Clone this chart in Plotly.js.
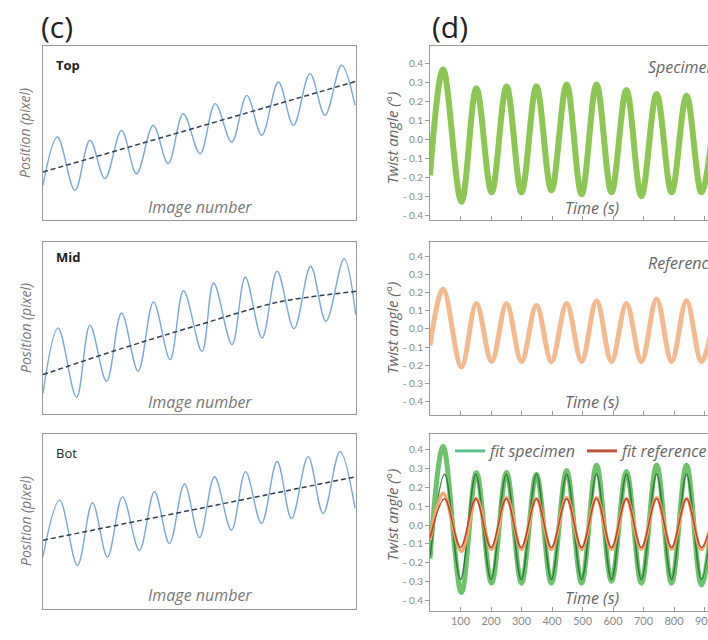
<!DOCTYPE html>
<html>
<head>
<meta charset="utf-8">
<script src="https://cdn.plot.ly/plotly-3.0.1.min.js"></script>
<style>
html,body{margin:0;padding:0;overflow:hidden;background:#fff;}
#chart{width:760px;height:640px;}
</style>
</head>
<body>
<div id="chart"></div>
<script>
// ---------- Panel (c): position vs image number (arbitrary units) ----------
const topImg   = [0, 4.6, 10.2, 15.0, 19.8, 25.1, 29.9, 35.2, 40.0, 44.8, 50.2, 55.0, 60.3, 65.1, 69.9, 75.2, 80.0, 85.3, 90.1, 95.4, 99.7];
const topPos   = [20, 47.7, 17.0, 45.8, 23.8, 51.5, 26.6, 54.4, 32.4, 61.1, 38.1, 66.9, 44.8, 71.6, 48.7, 79.3, 54.4, 84.1, 60.2, 88.9, 65.9];
const topFitX  = [0, 100];
const topFitY  = [27.6, 79.7];

const midImg   = [0, 4.8, 10.7, 15.0, 20.3, 25.1, 30.4, 35.3, 40.6, 44.9, 50.8, 54.5, 60.4, 64.6, 70.0, 74.8, 80.2, 85.5, 90.4, 96.2, 99.9];
const midPos   = [12, 50.0, 9.7, 51.6, 19.0, 58.7, 24.8, 65.1, 31.6, 71.7, 36.4, 76.2, 40.3, 79.5, 44.2, 83.0, 49.6, 85.9, 53.9, 90.3, 57.7];
const midFitX  = [0, 25, 50, 75, 100];
const midFitY  = [22.9, 38.0, 51.9, 65.0, 71.3];

const botImg   = [0, 5.3, 11.0, 15.8, 20.6, 25.4, 30.8, 35.6, 40.4, 45.2, 50.0, 54.8, 60.2, 64.7, 69.8, 74.8, 79.4, 84.7, 89.5, 94.9, 99.7];
const botPos   = [30, 62.2, 24.9, 60.7, 29.7, 64.1, 33.5, 67.0, 37.4, 71.4, 40.8, 75.6, 45.0, 78.5, 48.9, 84.3, 51.7, 87.1, 54.6, 90.0, 57.5];
const botFitX  = [0, 100];
const botFitY  = [39.3, 75.6];

// ---------- Panel (d): twist angle vs time ----------
const timeS     = [0, 43, 103, 152, 202, 251, 300, 349, 398, 448, 497, 546, 595, 644, 693, 743, 792, 841, 890, 940];
const specimen  = [-0.19, 0.37, -0.33, 0.27, -0.28, 0.28, -0.28, 0.28, -0.27, 0.29, -0.29, 0.29, -0.28, 0.26, -0.30, 0.24, -0.28, 0.23, -0.28, 0.25];
const reference = [-0.09, 0.22, -0.21, 0.14, -0.18, 0.14, -0.18, 0.13, -0.18, 0.14, -0.18, 0.155, -0.18, 0.14, -0.18, 0.165, -0.18, 0.155, -0.18, 0.15];
const specimen2 = [-0.18, 0.42, -0.36, 0.28, -0.31, 0.28, -0.31, 0.27, -0.31, 0.29, -0.31, 0.32, -0.30, 0.285, -0.31, 0.32, -0.31, 0.32, -0.32, 0.30];
const reference2= [-0.08, 0.17, -0.14, 0.14, -0.13, 0.145, -0.13, 0.14, -0.13, 0.145, -0.13, 0.145, -0.13, 0.14, -0.13, 0.145, -0.13, 0.14, -0.13, 0.14];
const fitTime   = [0, 48, 100, 150, 200, 250, 299, 349, 398, 448, 497, 546, 595, 644, 693, 743, 792, 841, 890, 940];
const fitSpec   = [-0.17, 0.27, -0.29, 0.27, -0.29, 0.27, -0.29, 0.27, -0.29, 0.27, -0.29, 0.27, -0.29, 0.27, -0.29, 0.27, -0.29, 0.27, -0.29, 0.27];
const fitRef    = [-0.07, 0.14, -0.12, 0.14, -0.12, 0.14, -0.12, 0.14, -0.12, 0.14, -0.12, 0.14, -0.12, 0.14, -0.12, 0.14, -0.12, 0.14, -0.12, 0.14];

const angleTicks  = [-0.4, -0.3, -0.2, -0.1, 0, 0.1, 0.2, 0.3, 0.4];
const angleLabels = ['- 0.4', '- 0.3', '- 0.2', '- 0.1', '0.0', '0.1', '0.2', '0.3', '0.4'];
const timeTicks   = [100, 200, 300, 400, 500, 600, 700, 800, 900, 1000];
const timeLabels  = ['100', '200', '300', '400', '500', '600', '700', '800', '900', '1000'];

const panelNames = ['Top', 'Mid', 'Bot'];

// ---------- layout helpers ----------
const W = 760, H = 640;
const px = v => v / W;
const py = v => 1 - v / H;
const FONT = '"Open Sans", Lato, sans-serif';
const TICKFONT = 'Lato, "Open Sans", sans-serif';
const BLUE = '#78a9d8', TREND = '#2f3e52';

const traces = [];
function sig(x, y, xa, ya) {
  traces.push({x, y, xaxis: xa, yaxis: ya, type: 'scatter', mode: 'lines',
    line: {color: BLUE, width: 1.4, shape: 'spline', smoothing: 1.0}, showlegend: false, hoverinfo: 'skip'});
}
function trend(x, y, xa, ya) {
  traces.push({x, y, xaxis: xa, yaxis: ya, type: 'scatter', mode: 'lines',
    line: {color: TREND, width: 1.5, dash: '5px,3px', shape: 'spline', smoothing: 0.8}, showlegend: false, hoverinfo: 'skip'});
}
sig(topImg, topPos, 'x', 'y');   trend(topFitX, topFitY, 'x', 'y');
sig(midImg, midPos, 'x2', 'y2'); trend(midFitX, midFitY, 'x2', 'y2');
sig(botImg, botPos, 'x3', 'y3'); trend(botFitX, botFitY, 'x3', 'y3');

traces.push({x: timeS, y: specimen, xaxis: 'x4', yaxis: 'y4', type: 'scatter', mode: 'lines',
  line: {color: '#8cc653', width: 6, shape: 'spline', smoothing: 1.0}, showlegend: false, hoverinfo: 'skip'});
traces.push({x: timeS, y: reference, xaxis: 'x5', yaxis: 'y5', type: 'scatter', mode: 'lines',
  line: {color: '#f5b98e', width: 5, shape: 'spline', smoothing: 1.0}, showlegend: false, hoverinfo: 'skip'});

traces.push({x: timeS, y: specimen2, xaxis: 'x6', yaxis: 'y6', type: 'scatter', mode: 'lines', name: 'specimen',
  line: {color: '#6cc36a', width: 5, shape: 'spline', smoothing: 1.0}, showlegend: false, hoverinfo: 'skip'});
traces.push({x: fitTime, y: fitSpec, xaxis: 'x6', yaxis: 'y6', type: 'scatter', mode: 'lines', name: 'fit specimen',
  line: {color: '#2f7d3a', width: 1.5, shape: 'spline', smoothing: 1.0}, showlegend: false, hoverinfo: 'skip'});
traces.push({x: timeS, y: reference2, xaxis: 'x6', yaxis: 'y6', type: 'scatter', mode: 'lines', name: 'reference',
  line: {color: '#f6a66a', width: 3.5, shape: 'spline', smoothing: 1.0}, showlegend: false, hoverinfo: 'skip'});
traces.push({x: fitTime, y: fitRef, xaxis: 'x6', yaxis: 'y6', type: 'scatter', mode: 'lines', name: 'fit reference',
  line: {color: '#b8442c', width: 1.5, shape: 'spline', smoothing: 1.0}, showlegend: false, hoverinfo: 'skip'});
// legend entries (line samples)
traces.push({x: [null], y: [null], xaxis: 'x6', yaxis: 'y6', type: 'scatter', mode: 'lines', name: 'fit specimen',
  line: {color: '#5cc08a', width: 3}, showlegend: true});
traces.push({x: [null], y: [null], xaxis: 'x6', yaxis: 'y6', type: 'scatter', mode: 'lines', name: 'fit reference',
  line: {color: '#c0533a', width: 3}, showlegend: true});

const leftX = [px(43), px(356)];
const rightX = [px(430), px(735)];
const doms = [[py(220), py(46)], [py(414), py(242)], [py(609), py(434)]];
const rdoms = [[py(220), py(46)], [py(415), py(242)], [py(611), py(434)]];
const ranges = [[-0.426, 0.493], [-0.474, 0.479], [-0.458, 0.485]];

const layout = {
  width: W, height: H, margin: {l: 0, r: 0, t: 0, b: 0},
  paper_bgcolor: '#fff', plot_bgcolor: '#fff',
  font: {family: FONT, color: '#666'},
  showlegend: true,
  legend: {orientation: 'h', x: px(450), y: py(451), xanchor: 'left', yanchor: 'middle',
           bgcolor: 'rgba(0,0,0,0)', font: {size: 16, style: 'italic', color: '#666', family: FONT},
           itemwidth: 30, tracegroupgap: 0},
  annotations: [],
};
const axL = {showline: true, mirror: true, linecolor: '#999', linewidth: 1, showgrid: false,
             zeroline: false, showticklabels: false, ticks: '', fixedrange: true};
for (let i = 0; i < 3; i++) {
  const s = i === 0 ? '' : String(i + 1);
  layout['xaxis' + s] = Object.assign({}, axL, {domain: leftX, range: [0, 100], anchor: 'y' + s});
  layout['yaxis' + s] = Object.assign({}, axL, {domain: doms[i], range: [0, 100], anchor: 'x' + s});
  const r = String(i + 4);
  layout['xaxis' + r] = {domain: rightX, range: [0, 1000], anchor: 'y' + r, showline: true, mirror: true,
    linecolor: '#9a9a9a', linewidth: 1, showgrid: false, zeroline: false,
    tickvals: timeTicks, ticktext: timeLabels, ticks: 'inside', ticklen: 4, tickcolor: '#9a9a9a',
    showticklabels: i === 2, tickfont: {size: 11, color: '#8a8a8a', family: TICKFONT}, fixedrange: true};
  layout['yaxis' + r] = {domain: rdoms[i], range: ranges[i], anchor: 'x' + r, showline: true, mirror: true,
    linecolor: '#9a9a9a', linewidth: 1, showgrid: false, zeroline: false,
    tickvals: angleTicks, ticktext: angleLabels, ticks: 'outside', ticklen: 4, tickcolor: '#9a9a9a',
    tickfont: {size: 10, color: '#8a8a8a', family: TICKFONT}, fixedrange: true};
}

function ann(text, x, y, opts) {
  layout.annotations.push(Object.assign({text, x, y, xref: 'paper', yref: 'paper', showarrow: false,
    xanchor: 'center', yanchor: 'middle'}, opts || {}));
}
ann('(c)', px(57), py(26), {font: {size: 30, color: '#222', family: FONT}});
ann('(d)', px(450), py(26), {font: {size: 30, color: '#222', family: FONT}});

const leftCenters = [133, 328, 521];
const leftNameY = [65, 257, 453];
const imgY = [207, 402, 595];
for (let i = 0; i < 3; i++) {
  ann(panelNames[i], px(54), py(leftNameY[i]), {xanchor: 'left',
    font: {size: 13, color: '#222', family: FONT, weight: i < 2 ? 700 : 400}});
  ann('Position (pixel)', px(25), py(leftCenters[i]), {textangle: -90,
    font: {size: 14, style: 'italic', color: '#777', family: FONT}});
  ann('Image number', px(200), py(imgY[i]), {font: {size: 16, style: 'italic', color: '#777', family: FONT}});
}
const rightCenters = [138, 328, 515];
const timeY = [208, 402, 598];
for (let i = 0; i < 3; i++) {
  ann('Twist angle (°)', px(392), py(rightCenters[i]), {textangle: -90,
    font: {size: 15, style: 'italic', color: '#666', family: FONT}});
  ann('Time (s)', px(592), py(timeY[i]), {font: {size: 16, style: 'italic', color: '#666', family: FONT}});
}
ann('Specimen', px(646), py(67), {xanchor: 'left', font: {size: 16, style: 'italic', color: '#666', family: FONT}});
ann('Reference', px(646), py(263), {xanchor: 'left', font: {size: 16, style: 'italic', color: '#666', family: FONT}});

Plotly.newPlot('chart', traces, layout, {staticPlot: true, displayModeBar: false});
</script>
</body>
</html>
